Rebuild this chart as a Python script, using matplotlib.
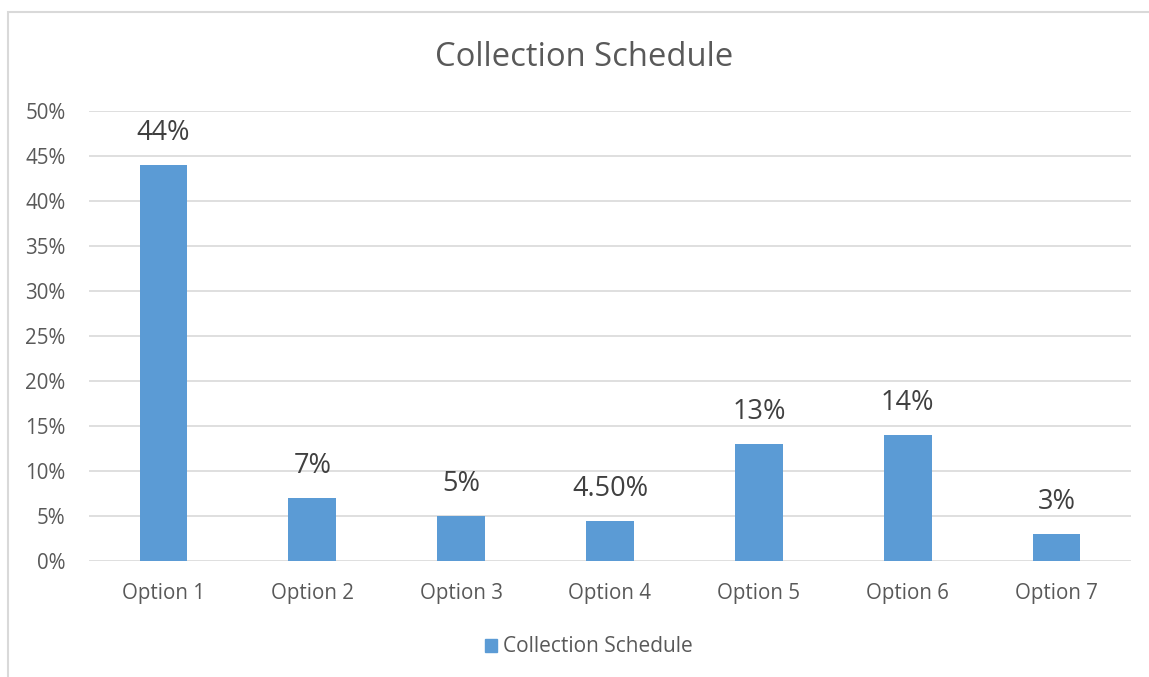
import matplotlib
matplotlib.use("Agg")
import matplotlib.pyplot as plt
from matplotlib.patches import Rectangle

# data
categories = ["Option 1", "Option 2", "Option 3", "Option 4", "Option 5", "Option 6", "Option 7"]
values = [44, 7, 5, 4.5, 13, 14, 3]
value_labels = ["44%", "7%", "5%", "4.50%", "13%", "14%", "3%"]
y_ticks = [0, 5, 10, 15, 20, 25, 30, 35, 40, 45, 50]
series_name = "Collection Schedule"

bar_color = "#5B9BD5"
text_color = "#595959"
grid_color = "#D9D9D9"

plt.rcParams["font.family"] = ["Open Sans", "DejaVu Sans"]

fig = plt.figure(figsize=(11.49, 6.77), dpi=100)
W, H = 1149, 677
ax = fig.add_axes([89 / W, 1 - 561 / H, (1131 - 89) / W, (561 - 111) / H])

x = range(len(categories))
ax.bar(x, values, width=0.32, color=bar_color, zorder=3)
for xi, v, lab in zip(x, values, value_labels):
    ax.annotate(lab, (xi, v), xytext=(0, 23), textcoords="offset points",
                ha="center", va="center", fontsize=19.5, color="#404040")

ax.set_xlim(-0.5, len(categories) - 0.5)
ax.set_ylim(0, 50)
ax.set_yticks(y_ticks)
ax.set_yticklabels([f"{t}%" for t in y_ticks])
ax.set_xticks(list(x))
ax.set_xticklabels(categories)
ax.tick_params(axis="both", length=0, labelsize=14.8, colors=text_color)
ax.tick_params(axis="y", pad=17)
ax.tick_params(axis="x", pad=15.5)
ax.grid(axis="y", color=grid_color, linewidth=1.2, zorder=0)
for s in ax.spines.values():
    s.set_visible(False)

fig.text(584 / W, 1 - 58 / H, "Collection Schedule", ha="center", va="center",
         fontsize=23.6, color=text_color)

# legend
leg = fig.legend([Rectangle((0, 0), 1, 1, color=bar_color)], [series_name],
                 loc="center", bbox_to_anchor=(589 / W, 1 - 647 / H), frameon=False,
                 fontsize=15, handlelength=0.6, handleheight=0.6, handletextpad=0.3)
for t in leg.get_texts():
    t.set_color(text_color)

# chart border
fig.patches.append(Rectangle((8 / W, -0.1), 1.2, 1 - 12 / H + 0.1, transform=fig.transFigure,
                             fill=False, edgecolor="#D9D9D9", linewidth=1.5))

fig.savefig("out.png", dpi=100)
